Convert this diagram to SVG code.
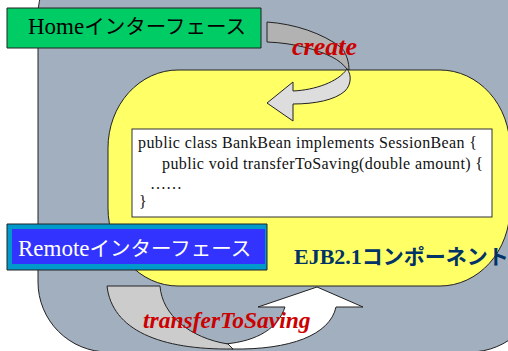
<svg xmlns="http://www.w3.org/2000/svg" width="508" height="351" viewBox="0 0 508 351">
<style>
.edge{stroke:#222;stroke-width:1;stroke-linejoin:round}
.serif{font-family:"Liberation Serif","Times New Roman",serif}
.jp{font-family:"Noto Sans CJK JP","Noto Sans CJK SC",sans-serif}
.lbl{font-family:"Liberation Serif",serif;font-weight:bold;font-style:italic;fill:#CC0000}
.code{font-family:"Liberation Serif",serif;font-size:16px;fill:#111}
</style>
<rect width="508" height="351" fill="#ffffff"/>
<g id="background">
<rect x="38" y="-55" width="502" height="407" rx="70" ry="70" fill="#A2AFBE" class="edge"/>
</g>
<g id="component">
<rect x="108" y="70" width="402" height="216" rx="70" ry="78" fill="#FFFF66" class="edge"/>
<rect x="132" y="129" width="360" height="88" fill="#ffffff" stroke="#333" stroke-width="1"/>
<text class="code" x="138" y="148" textLength="339" lengthAdjust="spacing">public class BankBean implements SessionBean {</text>
<text class="code" x="162" y="169" textLength="321" lengthAdjust="spacing">public void transferToSaving(double amount) {</text>
<text class="code" x="150" y="189">……</text>
<text class="code" x="139" y="207">}</text>
<text x="294" y="264" font-weight="bold" fill="#003366"><tspan class="serif" font-size="22">EJB2.1</tspan><tspan class="jp" font-size="21">コンポーネント</tspan></text>
</g>
<g id="connectors">
<g id="create-arrow">
<path d="M267,22 C295,24 322,33 342,48 C347,55 349,63 349,70 L347,69 C343,64 338,60 332,57 C318,50 295,43 267,42 Z" fill="#B2B2B2" class="edge"/>
<path d="M347,69 C352,75 351,85 345,91 C335,100 315,104 293,104 L293,121 L267,103 L293,82 L293,91 C315,90 338,82 347,69 Z" fill="#DDDDDD" class="edge"/>
<text class="lbl" x="292" y="55" font-size="26">create</text>
</g>
<g id="transfer-arrow">
<path d="M285,307 C278,328 258,341 225,344 L232,349 C290,350 330,335 336,307 L363,307 L317,287 L258,307 Z" fill="#ffffff" class="edge"/>
<path d="M107,286 L160,286 C162,315 190,338 228,344 L233,349 C160,350 112,330 107,286 Z" fill="#CCCCCC" class="edge"/>
<text class="lbl" x="143" y="328" font-size="23.5">transferToSaving</text>
</g>
</g>
<g id="home">
<rect x="7" y="8" width="254" height="40" fill="#00CC66" class="edge"/>
<text x="28" y="34" fill="#000"><tspan class="serif" font-size="23">Home</tspan><tspan class="jp" font-size="20.5">インターフェース</tspan></text>
</g>
<g id="remote">
<rect x="7" y="224" width="260" height="46" fill="#0099CC" class="edge"/>
<rect x="12" y="229" width="253" height="35" fill="#3333FF"/>
<text x="18" y="256" fill="#ffffff"><tspan class="serif" font-size="23">Remote</tspan><tspan class="jp" font-size="20.5">インターフェース</tspan></text>
</g>
</svg>
